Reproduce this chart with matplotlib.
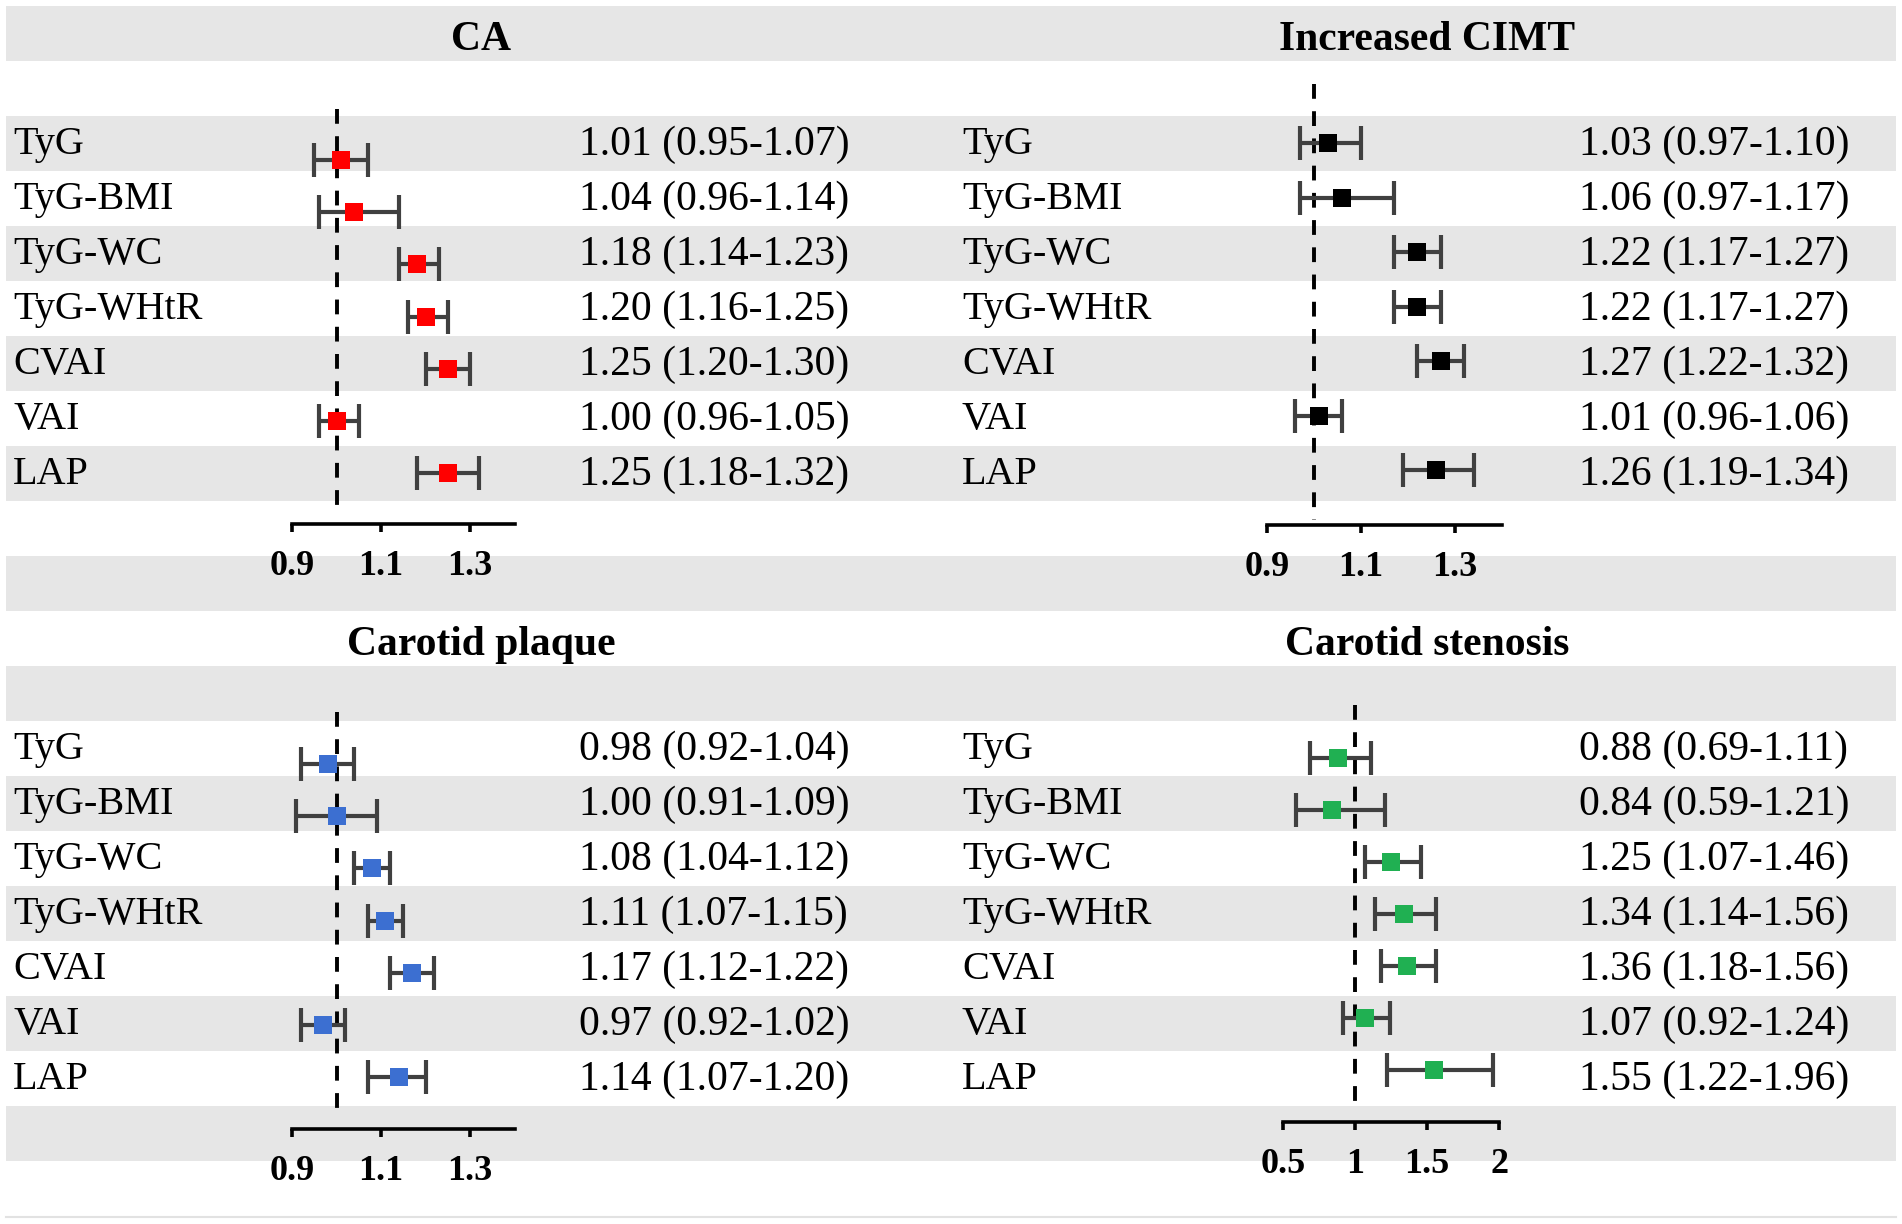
import matplotlib
matplotlib.use("Agg")
import matplotlib.pyplot as plt
from matplotlib.patches import Rectangle

# ---------------- data ----------------
categories = ["TyG", "TyG-BMI", "TyG-WC", "TyG-WHtR", "CVAI", "VAI", "LAP"]

ca_or = [1.01, 1.04, 1.18, 1.20, 1.25, 1.00, 1.25]
ca_lo = [0.95, 0.96, 1.14, 1.16, 1.20, 0.96, 1.18]
ca_hi = [1.07, 1.14, 1.23, 1.25, 1.30, 1.05, 1.32]

cimt_or = [1.03, 1.06, 1.22, 1.22, 1.27, 1.01, 1.26]
cimt_lo = [0.97, 0.97, 1.17, 1.17, 1.22, 0.96, 1.19]
cimt_hi = [1.10, 1.17, 1.27, 1.27, 1.32, 1.06, 1.34]

plaque_or = [0.98, 1.00, 1.08, 1.11, 1.17, 0.97, 1.14]
plaque_lo = [0.92, 0.91, 1.04, 1.07, 1.12, 0.92, 1.07]
plaque_hi = [1.04, 1.09, 1.12, 1.15, 1.22, 1.02, 1.20]

sten_or = [0.88, 0.84, 1.25, 1.34, 1.36, 1.07, 1.55]
sten_lo = [0.69, 0.59, 1.07, 1.14, 1.18, 0.92, 1.22]
sten_hi = [1.11, 1.21, 1.46, 1.56, 1.56, 1.24, 1.96]

titles = ["CA", "Increased CIMT", "Carotid plaque", "Carotid stenosis"]
ticks_a = [0.9, 1.1, 1.3]
ticklabels_a = ["0.9", "1.1", "1.3"]
ticks_b = [0.5, 1.0, 1.5, 2.0]
ticklabels_b = ["0.5", "1", "1.5", "2"]

# ---------------- layout ----------------
W, H = 1902, 1224
SERIF = ["Liberation Serif", "DejaVu Serif"]
STRIPE = "#E6E6E6"
ROW0, ROWH, NROWS = 6, 55, 22

fig = plt.figure(figsize=(W / 100, H / 100), dpi=100)
bg = fig.add_axes([0, 0, 1, 1])
bg.set_xlim(0, W)
bg.set_ylim(H, 0)
bg.axis("off")

for k in range(NROWS):
    if k % 2 == 0:
        bg.add_patch(Rectangle((6, ROW0 + ROWH * k), 1890, ROWH,
                               facecolor=STRIPE, edgecolor="none", zorder=0))
bg.plot([6, 1896], [1217, 1217], color="#E2E2E2", lw=1.5, zorder=0)


def rowc(k):
    return ROW0 + ROWH * k + ROWH / 2


panels = [
    dict(title=titles[0], orv=ca_or, lo=ca_lo, hi=ca_hi, color="#FF0000",
         col=0, first_row=2, title_y=40, x0px=292, scale=445, xlim=(0.9, 1.4),
         ticks=ticks_a, tl=ticklabels_a, mk_top=160, step=52.2,
         dash=(109, 512), axis_y=524),
    dict(title=titles[1], orv=cimt_or, lo=cimt_lo, hi=cimt_hi, color="#000000",
         col=1, first_row=2, title_y=40, x0px=1267, scale=470, xlim=(0.9, 1.4),
         ticks=ticks_a, tl=ticklabels_a, mk_top=143, step=54.5,
         dash=(84, 520), axis_y=525),
    dict(title=titles[2], orv=plaque_or, lo=plaque_lo, hi=plaque_hi, color="#3C6FD1",
         col=0, first_row=13, title_y=645, x0px=292, scale=445, xlim=(0.9, 1.4),
         ticks=ticks_a, tl=ticklabels_a, mk_top=764, step=52.2,
         dash=(712, 1117), axis_y=1129),
    dict(title=titles[3], orv=sten_or, lo=sten_lo, hi=sten_hi, color="#20B052",
         col=1, first_row=13, title_y=645, x0px=1283, scale=144, xlim=(0.5, 2.0),
         ticks=ticks_b, tl=ticklabels_b, mk_top=758, step=52,
         dash=(705, 1108), axis_y=1122),
]

col_label_x = [13, 962]
col_value_x = [579, 1579]
col_title_x = [481, 1427]

for p in panels:
    c = p["col"]
    bg.text(col_title_x[c], p["title_y"], p["title"], ha="center", va="center",
            fontsize=30, fontweight="bold", family=SERIF, zorder=3)
    for i, cat in enumerate(categories):
        y = rowc(p["first_row"] + i) + 1
        bg.text(col_label_x[c], y, cat, ha="left", va="center",
                fontsize=29, family=SERIF, zorder=3)
        txt = "{:.2f} ({:.2f}-{:.2f})".format(p["orv"][i], p["lo"][i], p["hi"][i])
        bg.text(col_value_x[c], y, txt, ha="left", va="center",
                fontsize=30, family=SERIF, zorder=3)

    # forest axes
    xl0, xl1 = p["xlim"]
    px0 = p["x0px"]
    px1 = px0 + (xl1 - xl0) * p["scale"]
    ytop, ybot = p["dash"][0], p["axis_y"]
    ax = fig.add_axes([px0 / W, 1 - ybot / H, (px1 - px0) / W, (ybot - ytop) / H])
    ax.patch.set_visible(False)
    d_b = (ybot - p["mk_top"]) / p["step"]
    d_t = (ytop - p["mk_top"]) / p["step"]
    ax.set_xlim(xl0, xl1)
    ax.set_ylim(d_b, d_t)

    d_dash_end = (p["dash"][1] - p["mk_top"]) / p["step"]
    ax.vlines(1.0, d_t, d_dash_end, colors="black", lw=2.8,
              linestyles=(0, (3.8, 3.2)), zorder=1, clip_on=False)

    ypos = list(range(len(categories)))
    xerr = [[o - l for o, l in zip(p["orv"], p["lo"])],
            [h - o for o, h in zip(p["orv"], p["hi"])]]
    ax.errorbar(p["orv"], ypos, xerr=xerr, fmt="none", ecolor="#404040",
                elinewidth=3, capsize=12, capthick=3, zorder=2, clip_on=False)
    ax.plot(p["orv"], ypos, linestyle="none", marker="s", markersize=13.5,
            color=p["color"], markeredgewidth=0, zorder=3, clip_on=False)

    for s in ["left", "top", "right"]:
        ax.spines[s].set_visible(False)
    ax.spines["bottom"].set_linewidth(2.6)
    ax.spines["bottom"].set_bounds(xl0, xl1)
    ax.set_yticks([])
    ax.set_xticks(p["ticks"])
    ax.set_xticklabels(p["tl"], fontsize=26, fontweight="bold", family=SERIF)
    ax.tick_params(axis="x", direction="out", length=6, width=2.6, pad=13)

fig.savefig("out.png", dpi=100)
